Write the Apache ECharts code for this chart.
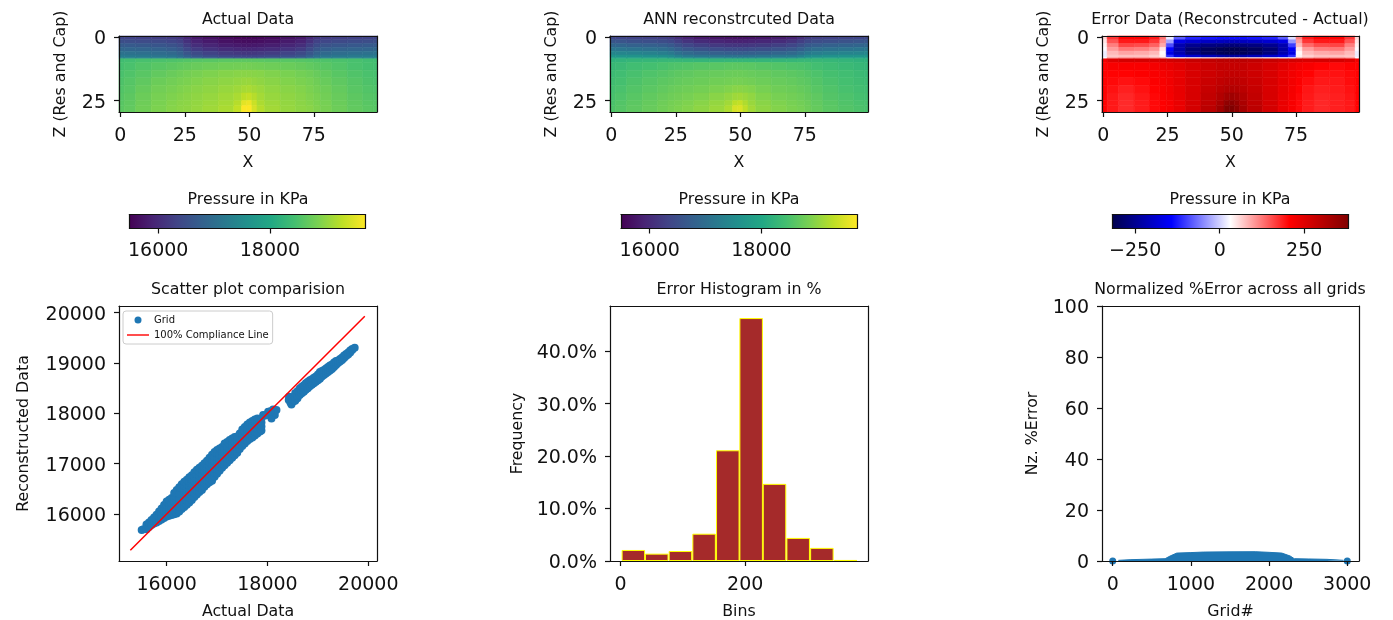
<!DOCTYPE html>
<html><head><meta charset="utf-8">
<style>html,body{margin:0;padding:0;background:#fff}#c{width:1393px;height:620px;filter:blur(0.4px)}</style>
<script src="https://cdn.jsdelivr.net/npm/echarts@6/dist/echarts.min.js"></script>
</head><body><div id="c"></div>
<script>
const xEdges=[-0.5,1.5,6,12,18,22,24.5,27.5,32,38,44,47,49,51,53,56,62,68,72,75,77.5,82,88,94,98,99.5];
const zEdges=[-0.5,1,2.5,4,5.5,7,8,8.5,10,13,16,19,22,25,27,29.5];
const actualRows=[
[16350,16330,16300,16270,16230,16150,15950,15780,15680,15580,15540,15520,15520,15530,15550,15600,15690,15780,15980,16160,16240,16280,16310,16330,16350],
[16500,16480,16450,16420,16370,16290,16080,15900,15790,15690,15650,15630,15630,15640,15660,15710,15800,15900,16100,16300,16380,16430,16460,16480,16500],
[16690,16670,16640,16600,16550,16450,16230,16040,15930,15830,15790,15770,15770,15780,15800,15850,15940,16040,16250,16460,16560,16610,16650,16670,16690],
[16880,16860,16830,16790,16730,16620,16400,16210,16100,16000,15960,15940,15940,15950,15970,16020,16110,16210,16420,16630,16740,16800,16840,16860,16880],
[17070,17050,17020,16980,16920,16800,16590,16420,16310,16210,16170,16150,16150,16160,16180,16230,16320,16420,16610,16810,16930,16990,17030,17050,17070],
[17220,17200,17180,17140,17090,16980,16780,16620,16500,16400,16360,16340,16340,16350,16370,16420,16510,16620,16800,17000,17110,17160,17190,17210,17220],
[17380,17370,17350,17310,17260,17160,17000,16870,16770,16680,16650,16630,16630,16640,16660,16700,16780,16870,17020,17170,17280,17330,17360,17370,17380],
[18400,18430,18470,18500,18520,18540,18560,18580,18600,18620,18630,18640,18640,18630,18620,18610,18600,18580,18560,18540,18520,18500,18470,18430,18400],
[18450,18490,18550,18600,18640,18670,18700,18730,18760,18790,18800,18810,18810,18800,18790,18770,18740,18710,18670,18640,18600,18550,18490,18450,18430],
[18490,18540,18610,18680,18730,18770,18810,18850,18890,18930,18950,18960,18960,18950,18940,18900,18860,18810,18770,18720,18670,18600,18540,18490,18470],
[18520,18580,18660,18750,18800,18840,18870,18910,18950,18990,19020,19050,19060,19030,19000,18960,18910,18870,18830,18780,18720,18650,18580,18520,18500],
[18550,18610,18710,18800,18850,18890,18920,18960,19000,19050,19090,19140,19160,19120,19070,19010,18960,18920,18870,18820,18770,18690,18610,18550,18530],
[18580,18640,18750,18840,18890,18930,18960,19000,19040,19100,19170,19290,19330,19240,19130,19050,19000,18950,18900,18860,18800,18720,18640,18580,18560],
[18600,18660,18770,18860,18920,18960,18980,19020,19070,19130,19240,19540,19600,19370,19180,19090,19020,18970,18930,18880,18830,18740,18660,18600,18580],
[18620,18680,18790,18880,18940,18980,19000,19040,19100,19170,19320,19700,19700,19450,19240,19120,19040,18990,18960,18900,18850,18760,18680,18620,18600]];
const reconRows=[
[16400,16370,16330,16310,16270,16200,16050,15900,15780,15720,15690,15680,15680,15690,15710,15740,15810,15900,16050,16210,16280,16320,16350,16370,16400],
[16620,16590,16540,16510,16470,16400,16260,16120,16000,15930,15900,15890,15890,15900,15920,15950,16020,16120,16260,16410,16480,16520,16560,16590,16620],
[16880,16850,16800,16770,16720,16650,16500,16370,16250,16180,16150,16140,16140,16150,16170,16200,16270,16370,16500,16660,16730,16780,16820,16850,16880],
[17150,17120,17080,17040,16990,16910,16760,16630,16530,16460,16430,16420,16420,16430,16450,16480,16550,16630,16760,16920,17000,17050,17090,17120,17150],
[17420,17400,17360,17320,17270,17190,17040,16920,16830,16770,16740,16730,16730,16740,16760,16790,16850,16920,17040,17200,17280,17330,17370,17400,17420],
[17680,17660,17630,17600,17560,17480,17340,17230,17150,17100,17080,17070,17070,17080,17090,17120,17170,17230,17340,17490,17570,17610,17640,17660,17680],
[17900,17890,17870,17850,17820,17750,17620,17530,17470,17430,17410,17400,17400,17410,17420,17440,17480,17530,17620,17760,17830,17860,17880,17890,17900],
[18200,18220,18250,18270,18290,18300,18290,18270,18260,18260,18270,18270,18270,18270,18260,18260,18260,18270,18290,18300,18290,18270,18240,18210,18190],
[18310,18340,18400,18440,18480,18520,18540,18560,18590,18610,18630,18640,18640,18630,18620,18590,18560,18530,18510,18480,18430,18380,18330,18290,18270],
[18360,18410,18470,18530,18570,18610,18640,18660,18700,18720,18740,18750,18750,18740,18720,18700,18660,18630,18600,18560,18510,18450,18400,18350,18330],
[18400,18450,18520,18580,18630,18660,18690,18720,18750,18790,18810,18830,18830,18820,18800,18760,18720,18690,18650,18620,18560,18500,18440,18390,18370],
[18440,18490,18560,18620,18680,18720,18750,18780,18820,18870,18910,18950,18960,18940,18910,18840,18780,18750,18710,18670,18600,18540,18470,18430,18410],
[18470,18530,18600,18670,18730,18770,18800,18840,18890,18960,19020,19090,19110,19070,19010,18910,18840,18800,18760,18710,18650,18570,18510,18460,18440],
[18500,18560,18630,18700,18770,18820,18850,18890,18950,19030,19110,19280,19330,19200,19060,18960,18890,18840,18800,18750,18680,18600,18540,18490,18470],
[18520,18580,18650,18720,18790,18840,18880,18920,18990,19070,19190,19450,19480,19300,19120,19000,18920,18870,18830,18770,18700,18620,18560,18510,18490]];
const errorRows=[
[60,170,205,205,190,130,20,-80,-120,-130,-135,-135,-135,-135,-135,-130,-120,-80,10,120,190,205,205,170,60],
[50,150,190,190,170,110,-30,-170,-190,-200,-205,-210,-210,-210,-205,-200,-190,-170,-40,100,170,190,190,150,50],
[40,120,160,155,140,90,-90,-220,-250,-265,-270,-275,-275,-275,-270,-265,-250,-220,-100,80,135,155,160,120,40],
[30,100,125,120,105,50,-140,-230,-280,-300,-310,-315,-315,-315,-310,-300,-280,-230,-150,50,100,120,125,100,30],
[20,80,95,90,80,35,-170,-220,-270,-295,-305,-310,-310,-310,-305,-295,-270,-220,-170,35,80,90,95,80,20],
[20,70,75,75,65,40,-110,-170,-190,-210,-225,-235,-235,-235,-225,-210,-190,-170,-110,40,65,75,75,70,20],
[30,100,110,110,100,85,45,40,50,60,65,65,65,65,65,60,50,40,45,85,100,110,110,100,30],
[220,255,265,265,260,265,270,275,285,295,300,300,300,300,300,295,285,275,270,265,260,265,265,255,220],
[205,215,215,215,220,230,235,245,260,275,285,285,285,285,285,275,260,245,230,220,215,205,200,205,205],
[205,205,205,210,215,220,228,240,260,275,285,290,290,290,285,275,260,240,225,215,205,195,195,200,205],
[205,200,195,200,210,215,225,240,260,280,292,298,298,298,292,280,260,240,222,210,198,190,190,198,205],
[205,195,185,195,205,212,222,238,260,285,300,310,312,310,300,285,260,238,220,205,192,185,188,195,205],
[205,190,180,190,202,210,220,237,262,290,312,332,338,330,312,290,262,237,218,202,190,182,185,192,205],
[205,190,178,188,200,208,218,236,264,295,325,358,365,350,322,295,264,236,216,200,188,180,185,190,205],
[205,190,178,188,200,208,218,236,266,300,335,375,381,360,330,298,266,236,216,200,188,180,185,190,205]];
const pressureRange=[15487,19709];
const errorRange=[-317,381];
const scatterPairs=[
[15505,15682],[15540,15700],[15600,15700],[15600,15790],[15650,15740],[15650,15830],[15700,15780],[15700,15880],[15750,15810],[15750,15930],
[15800,15830],[15800,15900],[15800,15985],[15850,15860],[15850,15950],[15850,16050],
[15900,15890],[15900,15960],[15900,16040],[15900,16110],[15950,15920],[15950,16000],[15950,16090],[15950,16180],
[16000,15950],[16000,16030],[16000,16110],[16000,16180],[16000,16250],[16050,15965],[16050,16050],[16050,16130],[16050,16210],[16050,16285],
[16100,15980],[16100,16060],[16100,16140],[16100,16220],[16100,16320],[16150,15995],[16150,16075],[16150,16160],[16150,16240],[16150,16330],[16150,16420],
[16200,16013],[16200,16090],[16200,16170],[16200,16250],[16200,16330],[16200,16410],[16200,16480],
[16300,16100],[16300,16190],[16300,16280],[16300,16370],[16300,16460],[16300,16525],[16300,16590],
[16250,16050],[16250,16140],[16250,16220],[16250,16310],[16250,16400],[16250,16530],
[16350,16140],[16350,16230],[16350,16310],[16350,16400],[16350,16490],[16350,16560],[16350,16640],
[16400,16185],[16400,16270],[16400,16350],[16400,16430],[16400,16510],[16400,16590],[16400,16680],
[16450,16230],[16450,16320],[16450,16400],[16450,16480],[16450,16560],[16450,16640],[16450,16730],
[16500,16280],[16500,16360],[16500,16440],[16500,16520],[16500,16600],[16500,16680],[16500,16770],
[16550,16340],[16550,16420],[16550,16500],[16550,16580],[16550,16660],[16550,16740],[16550,16830],
[16600,16390],[16600,16470],[16600,16550],[16600,16630],[16600,16710],[16600,16790],[16600,16880],
[16650,16440],[16650,16520],[16650,16600],[16650,16680],[16650,16760],[16650,16840],[16650,16920],
[16700,16480],[16700,16560],[16700,16640],[16700,16720],[16700,16800],[16700,16880],[16700,16960],
[16750,16540],[16750,16620],[16750,16700],[16750,16780],[16750,16860],[16750,16940],[16750,17010],
[16800,16590],[16800,16670],[16800,16750],[16800,16830],[16800,16910],[16800,16990],[16800,17060],
[16850,16630],[16850,16710],[16850,16790],[16850,16870],[16850,16950],[16850,17030],[16850,17120],
[16900,16660],[16900,16740],[16900,16820],[16900,16900],[16900,16980],[16900,17060],[16900,17180],
[16950,16740],[16950,16820],[16950,16900],[16950,16980],[16950,17060],[16950,17140],[16950,17230],
[17000,16800],[17000,16880],[17000,16960],[17000,17040],[17000,17120],[17000,17200],[17000,17270],
[17050,16860],[17050,16940],[17050,17020],[17050,17100],[17050,17180],[17050,17300],
[17100,16920],[17100,17000],[17100,17080],[17100,17160],[17100,17240],[17100,17330],
[17150,16970],[17150,17050],[17150,17130],[17150,17210],[17150,17290],[17150,17400],
[17200,17020],[17200,17100],[17200,17180],[17200,17260],[17200,17340],[17200,17430],
[17250,17070],[17250,17150],[17250,17230],[17250,17310],[17250,17390],[17250,17470],
[17300,17120],[17300,17200],[17300,17280],[17300,17360],[17300,17440],[17300,17500],
[17350,17170],[17350,17250],[17350,17330],[17350,17410],[17350,17530],
[17400,17220],[17400,17300],[17400,17380],[17400,17460],[17400,17540],
[17450,17290],[17450,17370],[17450,17520],[17450,17600],
[17500,17350],[17500,17430],[17500,17510],[17500,17590],[17500,17680],
[17550,17400],[17550,17480],[17550,17560],[17550,17640],[17550,17730],
[17600,17450],[17600,17530],[17600,17610],[17600,17690],[17600,17780],
[17650,17490],[17650,17570],[17650,17650],[17650,17730],[17650,17820],
[17700,17520],[17700,17600],[17700,17680],[17700,17760],[17700,17850],
[17750,17560],[17750,17640],[17750,17720],[17750,17800],[17750,17880],
[17800,17600],[17800,17680],[17800,17760],[17800,17840],[17800,17900],
[17850,17640],[17850,17720],[17850,17800],[17850,17880],[17880,17660],[17880,17740],[17880,17820],[17880,17900],[17914,17966],
[18013,18032],[18046,17966],[18079,17900],[18112,18079],[18145,17966],[18178,18065],[17960,17960],[18090,17990],[18130,18020],[18060,18040],
[18422,18264],[18429,18330],[18455,18218],[18475,18178],[18508,18231],[18520,18330],[18440,18300],[18490,18280],[18530,18260],
[18550,18250],[18550,18320],[18550,18400],[18595,18300],[18595,18350],[18595,18440],[18640,18363],[18640,18430],[18640,18496],[18680,18400],[18680,18450],[18680,18530],[18720,18430],[18720,18500],[18720,18560],
[18760,18470],[18760,18530],[18760,18600],[18800,18500],[18800,18560],[18800,18630],[18840,18540],[18840,18600],[18840,18660],[18880,18570],[18880,18620],[18880,18680],[18920,18600],[18920,18650],[18920,18710],[18960,18630],[18960,18680],[18960,18730],
[19000,18660],[19000,18710],[19000,18770],[19040,18690],[19040,18740],[19040,18820],[19080,18730],[19080,18780],[19080,18840],[19120,18760],[19120,18810],[19120,18860],[19160,18790],[19160,18840],[19160,18890],[19200,18820],[19200,18870],[19200,18920],
[19240,18850],[19240,18900],[19240,18950],[19280,18880],[19280,18930],[19280,18970],[19320,18920],[19320,18970],[19320,19010],[19360,18960],[19360,19010],[19360,19040],[19400,19000],[19400,19050],[19440,19030],[19440,19080],[19480,19060],[19480,19110],[19520,19100],[19520,19150],
[19560,19140],[19560,19180],[19600,19170],[19600,19210],[19640,19210],[19640,19250],[19680,19260],[19680,19280],[19729,19303]];
const complianceLine=[[15280,15280],[19930,19930]];
const binCenters=[20.5,58,96,134,172,209.5,247,285,323,361];
const histPercent=[2.1,1.4,1.9,5.2,21.1,46.3,14.7,4.4,2.5,0.2];
const gridIndex=[73,222,500,670,734,819,1000,1161,1500,1822,2000,2164,2270,2322,2500,2740,2953];
const nzError=[0.26,0.52,0.75,0.91,1.96,3.1,3.3,3.5,3.6,3.65,3.4,3.1,1.96,0.91,0.8,0.65,0.26];
const endMarkers=[[0,0],[3000,0]];
const titles=['Actual Data','ANN reconstrcuted Data','Error Data (Reconstrcuted - Actual)','Scatter plot comparision','Error Histogram in %','Normalized %Error across all grids'];

const viridis=['#440154','#482475','#414487','#355f8d','#2a788e','#21918c','#22a884','#44bf70','#7ad151','#bddf26','#fde725'];
const seismic=['#00004d','#0000ff','#ffffff','#ff0000','#800000'];
function hex(c){return [1,3,5].map(i=>parseInt(c.substr(i,2),16));}
function ramp(stops,t){t=Math.max(0,Math.min(1,t));const p=t*(stops.length-1),i=Math.min(Math.floor(p),stops.length-2),f=p-i;
 const a=hex(stops[i]),b=hex(stops[i+1]);return 'rgb('+a.map((v,k)=>Math.round(v+(b[k]-v)*f)).join(',')+')';}

const FONT='"DejaVu Sans"',TICK=19,LAB=15.8,K='#111111';
const o={animation:false,backgroundColor:'#fff',title:[],grid:[],xAxis:[],yAxis:[],series:[],textStyle:{fontFamily:FONT}};
function axis(kind,cfg){
 const list=o[kind+'Axis'],g=cfg.grid,main=list.length;
 const fmt=cfg.fmt||(v=>String(v).replace('-','\u2212'));
 list.push({type:'value',gridIndex:g,min:cfg.min,max:cfg.max,inverse:!!cfg.inverse,z:6,
  position:kind=='x'?'bottom':'left',
  name:cfg.name||'',nameLocation:'middle',nameGap:cfg.gap,nameTextStyle:{fontFamily:FONT,fontSize:LAB,color:K},
  splitLine:{show:false},axisLine:{show:cfg.line!==false,onZero:false,lineStyle:{color:K,width:1.2}},
  axisTick:{show:!!cfg.ticks,length:5,lineStyle:{color:K,width:1.2},customValues:cfg.ticks},
  axisLabel:{show:!!cfg.ticks,fontFamily:FONT,fontSize:TICK,color:K,margin:cfg.margin||(kind=='x'?15:13),customValues:cfg.ticks,
   rich:{t:{fontFamily:FONT,fontSize:TICK,color:K,padding:[4,0,0,0]}},
   formatter:kind=='y'?(v=>'{t|'+fmt(v)+'}'):fmt,showMinLabel:true,showMaxLabel:true,hideOverlap:false}});
 list.push({type:'value',gridIndex:g,min:cfg.min,max:cfg.max,inverse:!!cfg.inverse,z:6,
  position:kind=='x'?'top':'right',splitLine:{show:false},axisTick:{show:false},axisLabel:{show:false},
  axisLine:{show:true,onZero:false,lineStyle:{color:K,width:1.2}}});
 return main;
}
function panel(box,xc,yc){
 const g=o.grid.length;
 o.grid.push({left:box[0],top:box[1],width:box[2],height:box[3],containLabel:false,outerBoundsMode:'none'});
 return {g,x:axis('x',Object.assign({grid:g},xc)),y:axis('y',Object.assign({grid:g},yc))};
}
function addTitle(text,cx,cy){o.title.push({text,left:cx,top:cy-6.5,textAlign:'center',padding:0,
  textStyle:{fontFamily:FONT,fontSize:LAB,fontWeight:'normal',color:K}});}
function heat(rows,range,stops,p){
 const data=[];
 rows.forEach((r,j)=>r.forEach((v,i)=>data.push([xEdges[i],xEdges[i+1],zEdges[j],zEdges[j+1],v])));
 o.series.push({type:'custom',xAxisIndex:p.x,yAxisIndex:p.y,data,encode:{x:[0,1],y:[2,3]},silent:true,
  renderItem(params,api){
   const a=api.coord([api.value(0),api.value(2)]),b=api.coord([api.value(1),api.value(3)]);
   const c=ramp(stops,(api.value(4)-range[0])/(range[1]-range[0]));
   return {type:'rect',shape:{x:a[0],y:a[1],width:b[0]-a[0],height:b[1]-a[1]},style:{fill:c,stroke:c,lineWidth:0.6}};
  }});
}
function colorbar(range,stops,ticks,box){
 const p=panel(box,{min:range[0],max:range[1],ticks,margin:13},{min:0,max:1});
 o.series.push({type:'custom',xAxisIndex:p.x,yAxisIndex:p.y,silent:true,data:[[range[0],range[1]]],encode:{x:[0,1]},
  renderItem(params,api){
   const a=api.coord([api.value(0),1]),b=api.coord([api.value(1),0]);
   const cs=stops.map((c,i)=>({offset:i/(stops.length-1),color:c}));
   return {type:'rect',shape:{x:a[0],y:a[1],width:b[0]-a[0],height:b[1]-a[1]},
    style:{fill:new echarts.graphic.LinearGradient(0,0,1,0,cs)}};
  }});
}
const zTicks=[0,25],xTicks=[0,25,50,75];
const topRow=[[119,36,258,76],[610,36,258,76],[1102,36,257,76]];
const tables=[[actualRows,pressureRange,viridis],[reconRows,pressureRange,viridis],[errorRows,errorRange,seismic]];
const centers=[248,739,1230];
const barBoxes=[[129.5,214.5,236,14],[621,214.5,236,14],[1112.5,214.5,236,14]];
const barTicks=[[16000,18000],[16000,18000],[-250,0,250]];
topRow.forEach((b,i)=>{
 const p=panel(b,{min:-0.5,max:99.5,ticks:xTicks,name:'X',gap:43},{min:-0.5,max:29.5,inverse:true,ticks:zTicks,name:'Z (Res and Cap)',gap:50});
 heat(tables[i][0],tables[i][1],tables[i][2],p);
 addTitle(titles[i],centers[i],18);
 addTitle('Pressure in KPa',centers[i],198);
 colorbar(tables[i][1],tables[i][2],barTicks[i],barBoxes[i]);
 addTitle(titles[i+3],centers[i],288);
});
// scatter
let p=panel([119,306,258,255],{min:15055,max:20172,ticks:[16000,18000,20000],name:'Actual Data',gap:43},
 {min:15067,max:20133,ticks:[16000,17000,18000,19000,20000],name:'Reconstructed Data',gap:87});
o.series.push({type:'scatter',name:'Grid',xAxisIndex:p.x,yAxisIndex:p.y,symbolSize:8,itemStyle:{color:'#1f77b4',opacity:1},data:scatterPairs});
o.series.push({type:'line',name:'100% Compliance Line',xAxisIndex:p.x,yAxisIndex:p.y,showSymbol:false,symbol:'none',
 lineStyle:{color:'#ff0000',width:1.5},itemStyle:{color:'#ff0000'},data:complianceLine});
// histogram
p=panel([610,306,258,255],{min:-17,max:397,ticks:[0,200],name:'Bins',gap:43},
 {min:0,max:48.6,ticks:[0,10,20,30,40],fmt:v=>v.toFixed(1)+'%',name:'Frequency',gap:84});
o.series.push({type:'bar',xAxisIndex:p.x,yAxisIndex:p.y,barWidth:23.5,itemStyle:{color:'#a52a2a',borderColor:'#ffff00',borderWidth:1},
 data:binCenters.map((c,i)=>[c,histPercent[i]])});
// normalized error
p=panel([1102,306,257,255],{min:-137,max:3150,ticks:[0,1000,2000,3000],name:'Grid#',gap:43},
 {min:0,max:100,ticks:[0,20,40,60,80,100],name:'Nz. %Error',gap:61});
o.series.push({type:'line',xAxisIndex:p.x,yAxisIndex:p.y,symbol:'none',lineStyle:{color:'#1f77b4',width:1},areaStyle:{color:'#1f77b4',opacity:1},
 data:gridIndex.map((g,i)=>[g,nzError[i]])});
o.series.push({type:'scatter',xAxisIndex:p.x,yAxisIndex:p.y,symbolSize:7,itemStyle:{color:'#1f77b4',opacity:1},data:endMarkers});
o.legend={left:123,top:311,orient:'vertical',backgroundColor:'#fff',borderColor:'#cccccc',borderWidth:1,borderRadius:3,padding:[4,4,4,4],
 itemWidth:22,itemHeight:7,itemGap:5,symbolKeepAspect:false,textStyle:{fontFamily:FONT,fontSize:10,color:K},
 data:[{name:'Grid',icon:'circle'},{name:'100% Compliance Line',icon:'path://M0,0L0,0M0,100L0,100M0,40H100V60H0Z'}]};
const chart=echarts.init(document.getElementById('c'),null,{renderer:'canvas'});
chart.setOption(o);
</script></body></html>
